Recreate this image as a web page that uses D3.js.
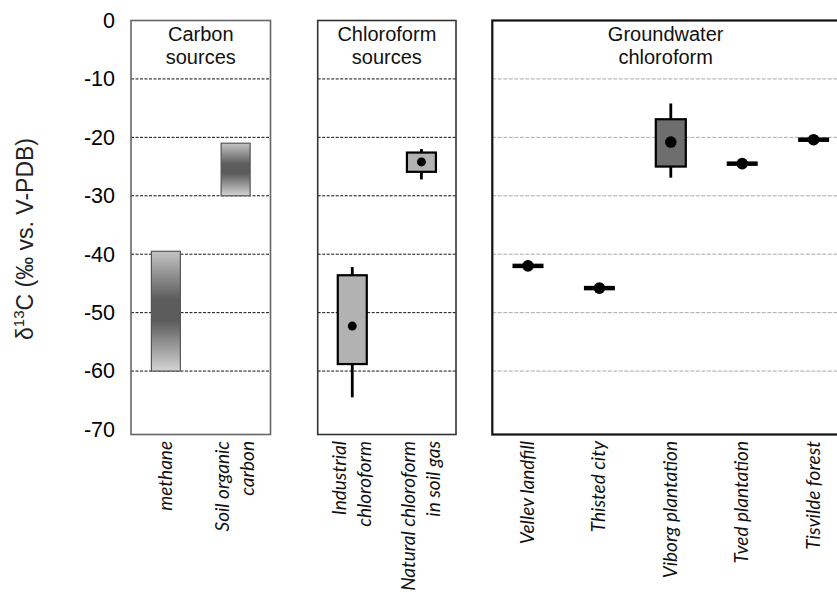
<!DOCTYPE html>
<html><head><meta charset="utf-8">
<script src="https://cdn.jsdelivr.net/npm/d3@7"></script>
<style>body{margin:0;background:#fff}</style>
</head><body>
<svg id="c" width="837" height="599"></svg>
<script>
// ---- data ----
const yTicks = [0, -10, -20, -30, -40, -50, -60, -70];
const gridValues = [-10, -20, -30, -40, -50, -60];

const carbonCats = [["methane"], ["Soil organic", "carbon"]];
const carbonLo = [-60, -30];
const carbonHi = [-39.5, -21];

const chloroCats = [["Industrial", "chloroform"], ["Natural chloroform", "in soil gas"]];
const chloroWhiskLo = [-64.5, -27.2];
const chloroBoxLo = [-58.8, -25.9];
const chloroMean = [-52.3, -24.2];
const chloroBoxHi = [-43.6, -22.6];
const chloroWhiskHi = [-42.2, -22.0];

const gwCats = [["Vellev landfill"], ["Thisted city"], ["Viborg plantation"], ["Tved plantation"], ["Tisvilde forest"]];
const gwWhiskLo = [-42.0, -45.8, -26.9, -24.5, -20.4];
const gwBoxLo = [-42.0, -45.8, -25.0, -24.5, -20.4];
const gwMean = [-42.0, -45.8, -20.8, -24.5, -20.4];
const gwBoxHi = [-42.0, -45.8, -16.9, -24.5, -20.4];
const gwWhiskHi = [-42.0, -45.8, -14.2, -24.5, -20.4];

const panelTitles = [["Carbon", "sources"], ["Chloroform", "sources"], ["Groundwater", "chloroform"]];

// ---- drawing ----
const svg = d3.select("#c");
const y = d3.scaleLinear().domain([0, -70]).range([20.5, 429.5]);
const panelBottom = 434.5;
const sans = "'Liberation Sans', Arial, sans-serif";

// y axis ticks (labels only)
const yAxis = d3.axisLeft(y).tickValues(yTicks).tickSize(0).tickPadding(0).tickFormat(d3.format("d"));
const ya = svg.append("g").attr("transform", "translate(115,0)").call(yAxis);
ya.select(".domain").remove();
ya.selectAll("text").attr("font-family", sans).attr("font-size", 21.5).attr("fill", "#000")
  .text(d => d === 0 ? "0" : "-" + Math.abs(d));

// y label
const yl = svg.append("text").attr("transform", "translate(33,239) rotate(-90)")
  .attr("text-anchor", "middle").attr("font-family", sans).attr("font-size", 23).attr("fill", "#222");
yl.append("tspan").text("δ");
yl.append("tspan").attr("font-size", 15).attr("dy", -9).text("13");
yl.append("tspan").attr("dy", 9).text("C (‰ vs. V-PDB)");

// gradient
const defs = svg.append("defs");
const grad = defs.append("linearGradient").attr("id", "g1").attr("x1", 0).attr("x2", 0).attr("y1", 0).attr("y2", 1);
[[0, "#c4c4c4"], [0.4, "#5c5c5c"], [0.58, "#5c5c5c"], [1, "#d4d4d4"]].forEach(s =>
  grad.append("stop").attr("offset", s[0]).attr("stop-color", s[1]));

const panels = [
  { x0: 131, x1: 270.5, cats: carbonCats, grid: "#111", dash: "3,1.5", border: "#666", bw: 1.6 },
  { x0: 317.7, x1: 456, cats: chloroCats, grid: "#111", dash: "3,1.5", border: "#333", bw: 1.6 },
  { x0: 492.3, x1: 849.3, cats: gwCats, grid: "#aaa", dash: "4,1.5", border: "#111", bw: 2.2 }
];

panels.forEach((p, i) => {
  const g = svg.append("g");
  p.x = d3.scalePoint().domain(d3.range(p.cats.length)).range([p.x0, p.x1]).padding(0.5);
  // grid
  g.selectAll("line.grid").data(gridValues).join("line")
    .attr("x1", p.x0).attr("x2", p.x1).attr("y1", d => y(d)).attr("y2", d => y(d))
    .attr("stroke", p.grid).attr("stroke-width", 1).attr("stroke-dasharray", p.dash);
  // frame
  g.append("rect").attr("x", p.x0).attr("y", y(0)).attr("width", p.x1 - p.x0).attr("height", panelBottom - y(0))
    .attr("fill", "none").attr("stroke", p.border).attr("stroke-width", p.bw);
  // title
  const t = g.append("text").attr("text-anchor", "middle").attr("font-family", sans).attr("font-size", 20).attr("fill", "#111");
  panelTitles[i].forEach((line, k) => t.append("tspan").attr("x", (p.x0 + Math.min(p.x1, 845)) / 2 - (i === 2 ? 3 : 0)).attr("y", 41 + k * 23).text(line));
  // category labels
  p.cats.forEach((lines, ci) => {
    const n = lines.length;
    lines.forEach((line, li) => {
      const off = (li - (n - 1) / 2) * 25;
      g.append("text")
        .attr("transform", `translate(${p.x(ci) + off + 6},441) rotate(-90)`)
        .attr("text-anchor", "end").attr("font-family", "Lato, 'Open Sans', sans-serif")
        .attr("font-style", "italic").attr("font-size", 19).attr("fill", "#111").text(line);
    });
  });
  p.g = g;
});

// panel 1 bars
const p1 = panels[0];
p1.g.selectAll("rect.bar").data(carbonCats).join("rect")
  .attr("x", (d, i) => p1.x(i) - 14.5).attr("width", 29)
  .attr("y", (d, i) => y(carbonHi[i])).attr("height", (d, i) => y(carbonLo[i]) - y(carbonHi[i]))
  .attr("fill", "url(#g1)").attr("stroke", "#555").attr("stroke-width", 1.2);

// box plots
function boxes(p, wLo, bLo, mean, bHi, wHi, fill, bw, r) {
  p.cats.forEach((c, i) => {
    const cx = p.x(i);
    const single = bLo[i] === bHi[i];
    if (single) {
      p.g.append("line").attr("x1", cx - 15.5).attr("x2", cx + 15.5).attr("y1", y(mean[i])).attr("y2", y(mean[i]))
        .attr("stroke", "#000").attr("stroke-width", 4.5);
    } else {
      p.g.append("line").attr("x1", cx).attr("x2", cx).attr("y1", y(wHi[i])).attr("y2", y(bHi[i]))
        .attr("stroke", "#000").attr("stroke-width", 2.8);
      p.g.append("line").attr("x1", cx).attr("x2", cx).attr("y1", y(bLo[i])).attr("y2", y(wLo[i]))
        .attr("stroke", "#000").attr("stroke-width", 2.8);
      p.g.append("rect").attr("x", cx - bw / 2).attr("width", bw)
        .attr("y", y(bHi[i])).attr("height", y(bLo[i]) - y(bHi[i]))
        .attr("fill", fill).attr("stroke", "#000").attr("stroke-width", 2.2);
    }
    p.g.append("circle").attr("cx", cx).attr("cy", y(mean[i])).attr("r", r).attr("fill", "#000");
  });
}
boxes(panels[1], chloroWhiskLo, chloroBoxLo, chloroMean, chloroBoxHi, chloroWhiskHi, "#b2b2b2", 29, 4.5);
boxes(panels[2], gwWhiskLo, gwBoxLo, gwMean, gwBoxHi, gwWhiskHi, "#6e6e6e", 30, 5.8);
</script>
</body></html>
